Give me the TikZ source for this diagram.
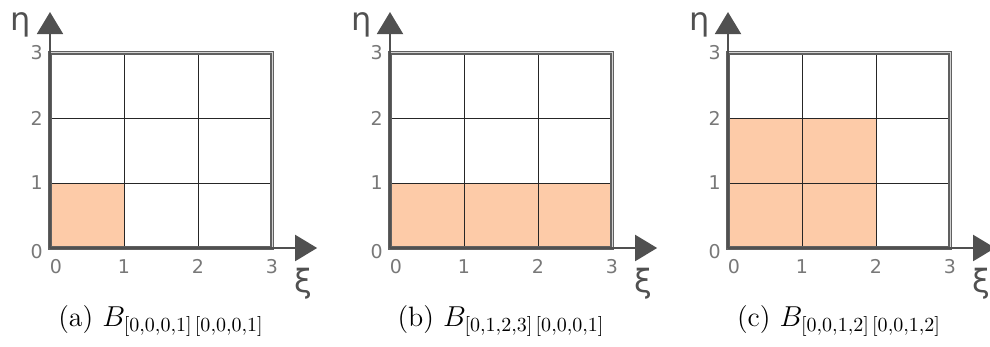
\documentclass[tikz,border=0pt]{standalone}
\usepackage{fontspec}
\usepackage{tikz}
\usetikzlibrary{arrows.meta}
\newfontfamily\axisfont{DejaVu Sans}
\definecolor{cellOrange}{RGB}{253,203,168}
\definecolor{axisGray}{RGB}{80,80,80}
\definecolor{tickGray}{RGB}{120,120,120}
\tikzset{
    % Cells & frame
    cellfill/.style={fill=cellOrange, draw=none},
    cellline/.style={draw=black!85, line width=0.45pt},
    gridFrame/.style={draw=gray!75!black, line width=0.7pt, double=gray!35, double distance=0.5pt},
    % Axes & labels
    axisArrow/.style={draw=axisGray, line width=1pt, -{Triangle[width=13pt,length=11pt]}},
    tickLbl/.style={font=\axisfont\fontsize{9.5}{10}\selectfont, text=tickGray, inner sep=0pt},
    axisLbl/.style={font=\axisfont\fontsize{16}{18}\selectfont, text=axisGray, inner sep=0pt},
    capLbl/.style={font=\fontsize{14}{16}\selectfont, inner sep=0pt}
}

\begin{document}
\begin{tikzpicture}[x=0.5pt, y=0.5pt]
\useasboundingbox (0,0) rectangle (990,347);

% (a)
\begin{scope}[shift={(50,99)}, x=37pt, y=32.5pt]
  \fill[cellfill] (0,0) rectangle (1,1);
  \draw[cellline] (0,0) grid[step=1] (3,3);
  \draw[gridFrame] (0,0) rectangle (3,3);
  \coordinate (a-o) at (0,0);
  \coordinate (a-xend) at (3.61,0);
  \coordinate (a-yend) at (0,3.63);
  \draw[axisArrow] (a-o) -- (a-xend);
  \draw[axisArrow] (a-o) -- (a-yend);
  \node[axisLbl] (a-eta) at (-0.39,3.43) {η};
  \node[axisLbl] (a-xi) at (3.42,-0.55) {ξ};
  \foreach \i in {1,2,3} {
    \node[tickLbl] (a-x\i) at (\i,-0.28) {\i};
    \node[tickLbl] (a-y\i) at (-0.18,\i) {\i};
  }
  \node[tickLbl] (a-x0) at (0.08,-0.28) {0};
  \node[tickLbl] (a-y0) at (-0.18,-0.05) {0};
  \node[capLbl] (a-cap) at (1.5,-1.13) {(a) $B_{[0,0,0,1]\,[0,0,0,1]}$};
\end{scope}

% (b)
\begin{scope}[shift={(390,99)}, x=37pt, y=32.5pt]
  \fill[cellfill] (0,0) rectangle (3,1);
  \draw[cellline] (0,0) grid[step=1] (3,3);
  \draw[gridFrame] (0,0) rectangle (3,3);
  \coordinate (b-o) at (0,0);
  \coordinate (b-xend) at (3.61,0);
  \coordinate (b-yend) at (0,3.63);
  \draw[axisArrow] (b-o) -- (b-xend);
  \draw[axisArrow] (b-o) -- (b-yend);
  \node[axisLbl] (b-eta) at (-0.39,3.43) {η};
  \node[axisLbl] (b-xi) at (3.42,-0.55) {ξ};
  \foreach \i in {1,2,3} {
    \node[tickLbl] (b-x\i) at (\i,-0.28) {\i};
    \node[tickLbl] (b-y\i) at (-0.18,\i) {\i};
  }
  \node[tickLbl] (b-x0) at (0.08,-0.28) {0};
  \node[tickLbl] (b-y0) at (-0.18,-0.05) {0};
  \node[capLbl] (b-cap) at (1.5,-1.13) {(b) $B_{[0,1,2,3]\,[0,0,0,1]}$};
\end{scope}

% (c)
\begin{scope}[shift={(728,99)}, x=37pt, y=32.5pt]
  \fill[cellfill] (0,0) rectangle (2,2);
  \draw[cellline] (0,0) grid[step=1] (3,3);
  \draw[gridFrame] (0,0) rectangle (3,3);
  \coordinate (c-o) at (0,0);
  \coordinate (c-xend) at (3.61,0);
  \coordinate (c-yend) at (0,3.63);
  \draw[axisArrow] (c-o) -- (c-xend);
  \draw[axisArrow] (c-o) -- (c-yend);
  \node[axisLbl] (c-eta) at (-0.39,3.43) {η};
  \node[axisLbl] (c-xi) at (3.42,-0.55) {ξ};
  \foreach \i in {1,2,3} {
    \node[tickLbl] (c-x\i) at (\i,-0.28) {\i};
    \node[tickLbl] (c-y\i) at (-0.18,\i) {\i};
  }
  \node[tickLbl] (c-x0) at (0.08,-0.28) {0};
  \node[tickLbl] (c-y0) at (-0.18,-0.05) {0};
  \node[capLbl] (c-cap) at (1.5,-1.13) {(c) $B_{[0,0,1,2]\,[0,0,1,2]}$};
\end{scope}

\end{tikzpicture}
\end{document}
